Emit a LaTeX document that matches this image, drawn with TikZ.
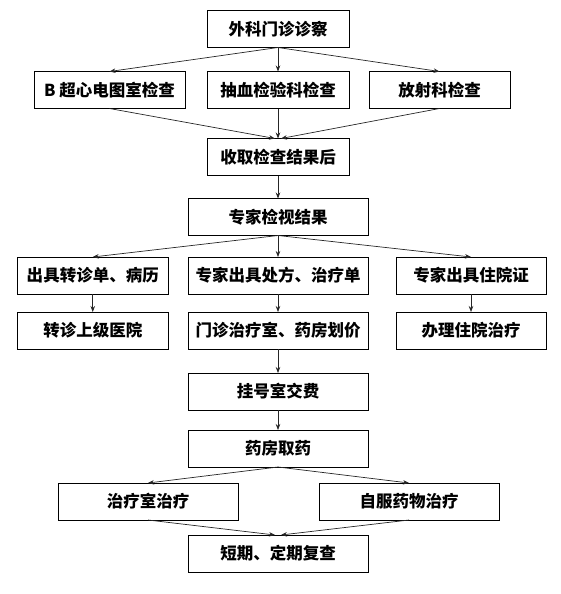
\documentclass[tikz,border=0pt]{standalone}
\usepackage{fontspec}
\usepackage{tikz}
\usetikzlibrary{positioning, arrows.meta}
\newfontfamily\cjk{Noto Sans CJK SC}

\begin{document}
\begin{tikzpicture}[x=1pt,y=-1pt,font=\cjk\bfseries\fontsize{16.5}{20}\selectfont,
 bx/.style={draw=black, line width=0.9pt, minimum height=37pt, inner sep=0pt, outer sep=0pt, text centered},
 ar/.style={-{Stealth[length=6pt,width=4.5pt]}, line width=0.7pt, draw=black!85}]
\useasboundingbox (0,0) rectangle (561,594);
\node[bx,minimum width=142pt] (exam) at (278,29) {外科门诊诊察};
\node[bx,minimum width=142pt,below=24pt of exam] (blood) {抽血检验科检查};
\node[bx,minimum width=151pt,left=22pt of blood] (bus) {B 超心电图室检查};
\node[bx,minimum width=141pt,right=20pt of blood] (xray) {放射科检查};
\node[bx,minimum width=142pt,below=30pt of blood] (collect) {收取检查结果后};
\node[bx,minimum width=180pt,below=23pt of collect] (review) {专家检视结果};

\node[bx,minimum width=180pt,below=21.5pt of review] (presc) {专家出具处方、治疗单};
\node[bx,minimum width=151.5pt,left=19.5pt of presc] (refer) {出具转诊单、病历};
\node[bx,minimum width=150pt,right=28pt of presc] (admit) {专家出具住院证};
\node[bx,minimum width=180pt,below=18pt of presc] (price) {门诊治疗室、药房划价};
\node[bx,minimum width=151.5pt,below=18pt of refer] (upper) {转诊上级医院};
\node[bx,minimum width=150pt,below=18pt of admit] (ward) {办理住院治疗};

\node[bx,minimum width=180pt,below=24pt of price] (pay) {挂号室交费};
\node[bx,minimum width=180pt,below=20pt of pay] (pharm) {药房取药};
\node[bx,minimum width=180pt,below=16pt of pharm,xshift=-130pt] (treat) {治疗室治疗};
\node[bx,minimum width=180pt,below=16pt of pharm,xshift=131pt] (self) {自服药物治疗};
\node[bx,minimum width=180pt,below=68pt of pharm] (recheck) {短期、定期复查};

\draw[ar] (exam.south) -- (bus.north);
\draw[ar] (exam.south) -- (blood.north);
\draw[ar] (exam.south) -- (xray.north);
\draw[ar] (bus.south) -- ([xshift=-3pt]collect.north);
\draw[ar] (blood.south) -- (collect.north);
\draw[ar] (xray.south) -- ([xshift=3pt]collect.north);
\draw[ar] (collect) -- (review);

\draw[ar] (review.south) -- (refer.north);
\draw[ar] (review.south) -- (presc.north);
\draw[ar] (review.south) -- (admit.north);
\draw[ar] (refer) -- (upper);
\draw[ar] (presc) -- (price);
\draw[ar] (admit) -- (ward);

\draw[ar] (price) -- (pay);
\draw[ar] (pay) -- (pharm);
\draw[ar] (pharm.south) -- (treat.north);
\draw[ar] (pharm.south) -- (self.north);
\draw[ar] (treat.south) -- ([xshift=-3pt]recheck.north);
\draw[ar] (self.south) -- ([xshift=3pt]recheck.north);

\end{tikzpicture}
\end{document}
